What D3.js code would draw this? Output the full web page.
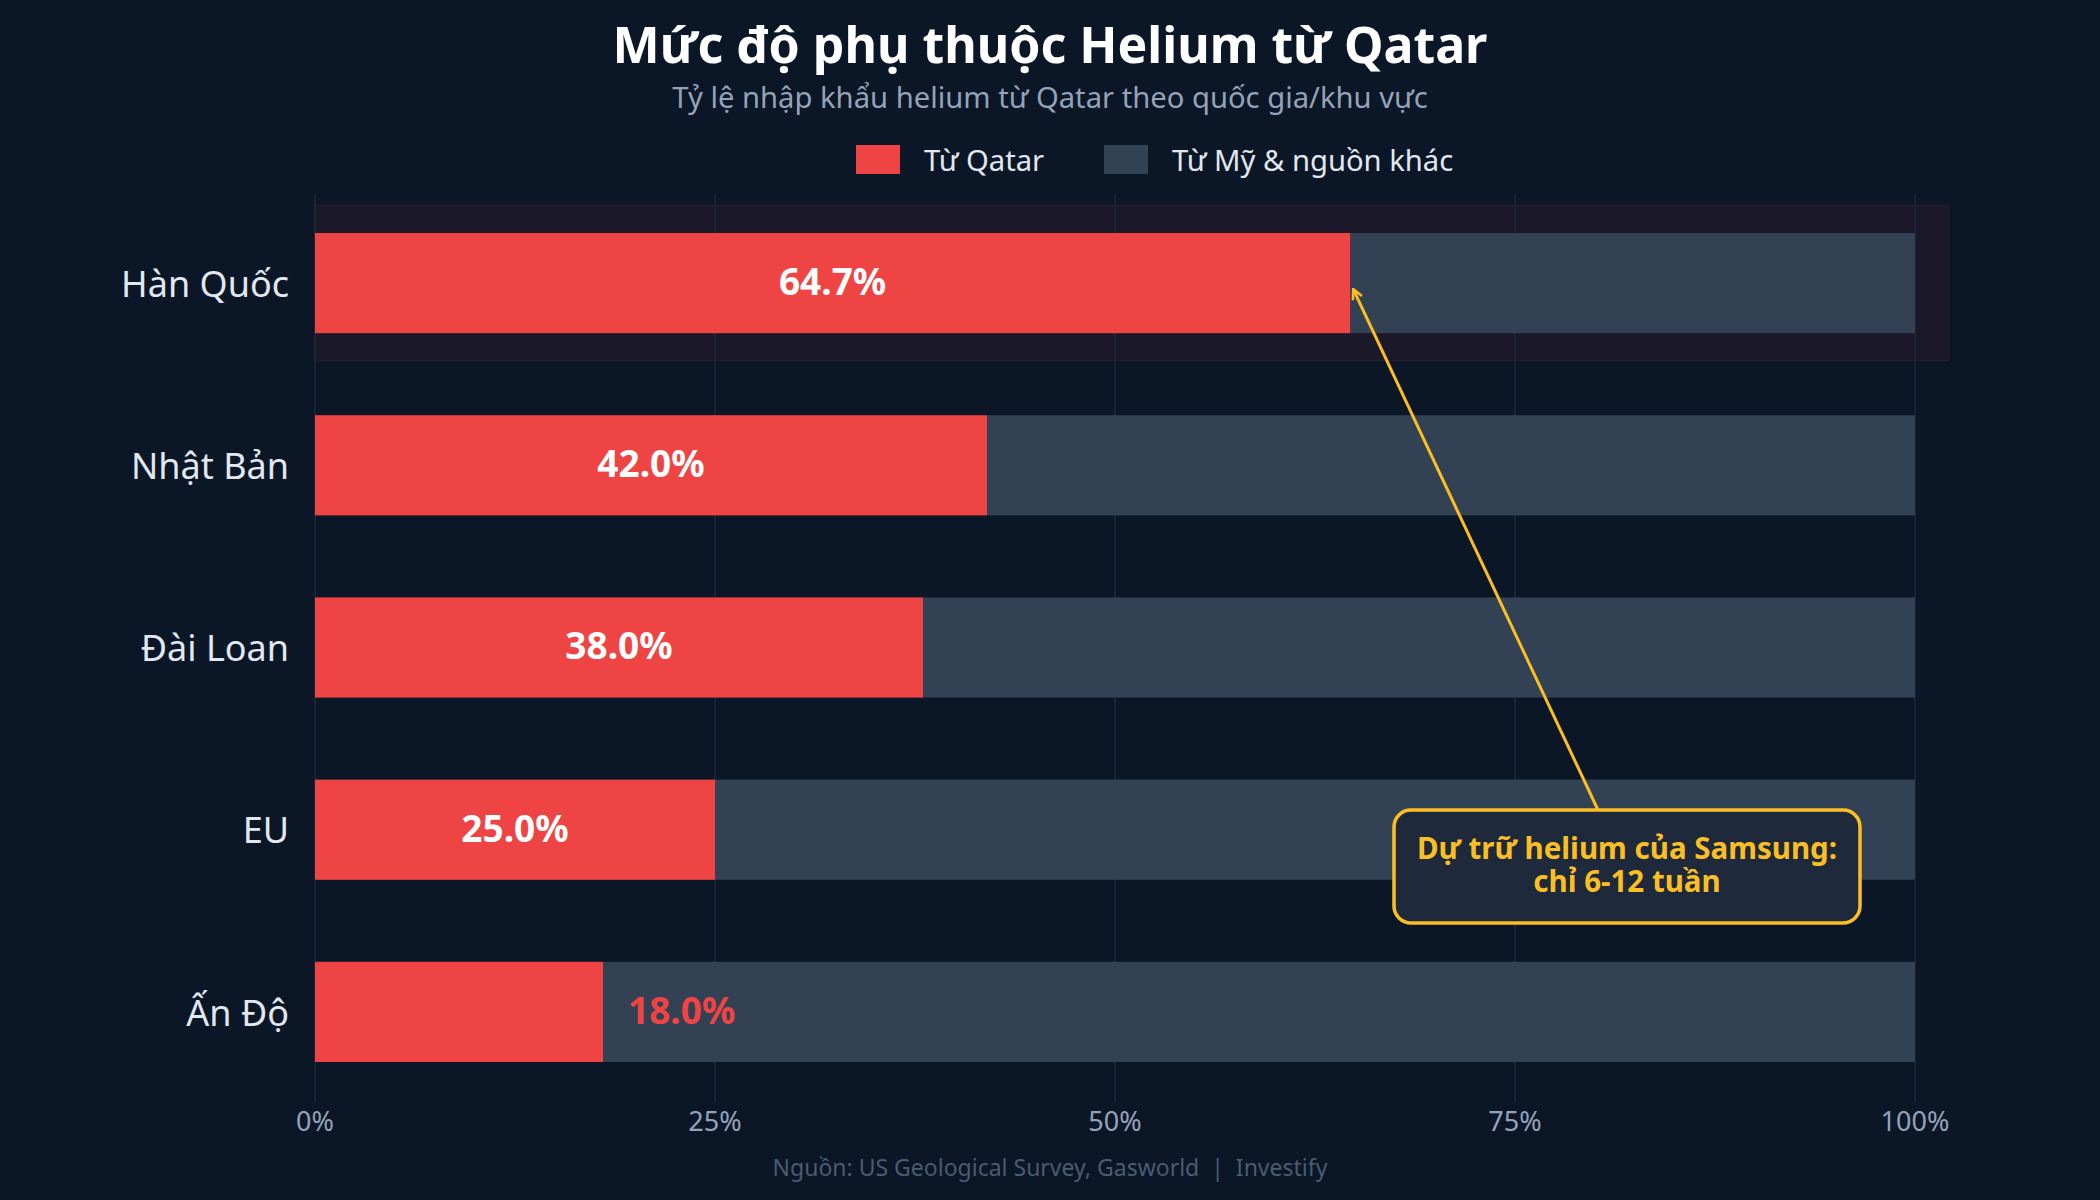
<!DOCTYPE html>
<html><head><meta charset="utf-8">
<script src="https://cdn.jsdelivr.net/npm/d3@7"></script>
<style>
html,body{margin:0;padding:0;background:#0b1627;}
svg{display:block;font-family:"Noto Sans",sans-serif;}
</style></head>
<body>
<svg id="chart" width="2100" height="1200"></svg>
<script>
const categories = ["Hàn Quốc", "Nhật Bản", "Đài Loan", "EU", "Ấn Độ"];
const qatarShare = [64.7, 42.0, 38.0, 25.0, 18.0];
const otherShare = qatarShare.map(v => 100 - v);
const seriesNames = ["Từ Qatar", "Từ Mỹ & nguồn khác"];
const tickValues = [0, 25, 50, 75, 100];
const tickLabels = ["0%", "25%", "50%", "75%", "100%"];
const highlightCategory = "Hàn Quốc";
const annotationLines = ["Dự trữ helium của Samsung:", "chỉ 6-12 tuần"];
const titleText = "Mức độ phụ thuộc Helium từ Qatar";
const subtitleText = "Tỷ lệ nhập khẩu helium từ Qatar theo quốc gia/khu vực";
const sourceText = "Nguồn: US Geological Survey, Gasworld  |  Investify";

const colors = {bg:"#0b1627", qatar:"#ef4444", other:"#334155", grid:"#1c2a3d", label:"#e2e8f0", tick:"#94a3b8", note:"#fbbf24"};

const svg = d3.select("#chart");
svg.append("rect").attr("width",2100).attr("height",1200).attr("fill",colors.bg);

const x = d3.scaleLinear().domain([0,100]).range([315,1915]);
const y = d3.scaleBand().domain(categories).range([194,1101]).paddingInner(0.45).paddingOuter(0.214);

// Highlight band
const hb = y(highlightCategory);
svg.append("rect")
  .attr("x", x(0)).attr("y", hb - 28)
  .attr("width", x(100) - x(0) + 34).attr("height", y.bandwidth() + 56)
  .attr("fill", "rgba(239,68,68,0.07)")
  .attr("stroke", "rgba(239,68,68,0.06)").attr("stroke-width", 2);

// Grid
svg.append("g").selectAll("line").data(tickValues).join("line")
  .attr("x1", d => x(d)).attr("x2", d => x(d))
  .attr("y1", 194).attr("y2", 1103)
  .attr("stroke", colors.grid).attr("stroke-width", 1.5);

// Bars
const rows = categories.map((c,i) => ({c, q: qatarShare[i], o: otherShare[i]}));
svg.append("g").selectAll("rect").data(rows).join("rect")
  .attr("x", d => x(d.q)).attr("y", d => y(d.c))
  .attr("width", d => x(d.q + d.o) - x(d.q)).attr("height", y.bandwidth())
  .attr("fill", colors.other);
svg.append("g").selectAll("rect").data(rows).join("rect")
  .attr("x", x(0)).attr("y", d => y(d.c))
  .attr("width", d => x(d.q) - x(0)).attr("height", y.bandwidth())
  .attr("fill", colors.qatar);

// Value labels
svg.append("g").selectAll("text").data(rows).join("text")
  .attr("x", d => d.q >= 25 ? (x(0) + x(d.q)) / 2 : x(d.q) + 25)
  .attr("y", d => y(d.c) + y.bandwidth() / 2 - 1)
  .attr("dy", "0.35em")
  .attr("text-anchor", d => d.q >= 25 ? "middle" : "start")
  .attr("fill", d => d.q >= 25 ? "#ffffff" : colors.qatar)
  .attr("font-size", 37).attr("font-weight", 700)
  .text(d => d.q.toFixed(1) + "%");

// Category labels
svg.append("g").selectAll("text").data(categories).join("text")
  .attr("x", 289).attr("y", d => y(d) + y.bandwidth() / 2 + 1)
  .attr("dy", "0.35em").attr("text-anchor", "end")
  .attr("fill", colors.label).attr("font-size", 36)
  .text(d => d);

// X axis labels
svg.append("g").selectAll("text").data(tickValues).join("text")
  .attr("x", d => x(d)).attr("y", 1122).attr("dy", "0.35em")
  .attr("text-anchor", "middle").attr("fill", colors.tick).attr("font-size", 27)
  .text((d,i) => tickLabels[i]);

// Title, subtitle
svg.append("text").attr("x",1050).attr("y",63).attr("text-anchor","middle")
  .attr("fill","#ffffff").attr("font-size",50).attr("font-weight",700).text(titleText);
svg.append("text").attr("x",1050).attr("y",108).attr("text-anchor","middle")
  .attr("fill",colors.tick).attr("font-size",29.2).text(subtitleText);

// Legend
const legend = [{n:seriesNames[0], c:colors.qatar, x:856}, {n:seriesNames[1], c:colors.other, x:1104}];
const lg = svg.append("g").selectAll("g").data(legend).join("g");
lg.append("rect").attr("x", d => d.x).attr("y", 145).attr("width", 44).attr("height", 29).attr("fill", d => d.c);
lg.append("text").attr("x", d => d.x + 68).attr("y", 161).attr("dy","0.35em")
  .attr("fill", colors.label).attr("font-size", 29.2).text(d => d.n);

// Annotation
const defs = svg.append("defs");
defs.append("marker").attr("id","arr").attr("viewBox","0 0 12 12").attr("refX",11).attr("refY",6)
  .attr("markerWidth",12).attr("markerHeight",12).attr("markerUnits","userSpaceOnUse").attr("orient","auto")
  .append("path").attr("d","M1,1 L11,6 L1,11").attr("fill","none").attr("stroke",colors.note).attr("stroke-width",2.5);
const hi = categories.indexOf(highlightCategory);
svg.append("line")
  .attr("x1", 1598).attr("y1", 810)
  .attr("x2", x(qatarShare[hi]) + 3).attr("y2", y(highlightCategory) + y.bandwidth()/2 + 6)
  .attr("stroke", colors.note).attr("stroke-width", 3).attr("marker-end","url(#arr)");
svg.append("rect").attr("x",1394).attr("y",810).attr("width",466).attr("height",113)
  .attr("rx",17).attr("fill","#1e293b").attr("stroke",colors.note).attr("stroke-width",3.5);
const note = svg.append("text").attr("x",1627).attr("y",849).attr("text-anchor","middle")
  .attr("fill",colors.note).attr("font-size",29.5).attr("font-weight",700);
note.selectAll("tspan").data(annotationLines).join("tspan")
  .attr("x",1627).attr("dy",(d,i)=> i === 0 ? "0.35em" : "33").text(d=>d);

// Source
svg.append("text").attr("x",1050).attr("y",1168).attr("dy","0.35em").attr("text-anchor","middle")
  .attr("fill","#4b5b70").attr("font-size",23).attr("xml:space","preserve").style("white-space","pre").text(sourceText);
</script>
</body></html>
